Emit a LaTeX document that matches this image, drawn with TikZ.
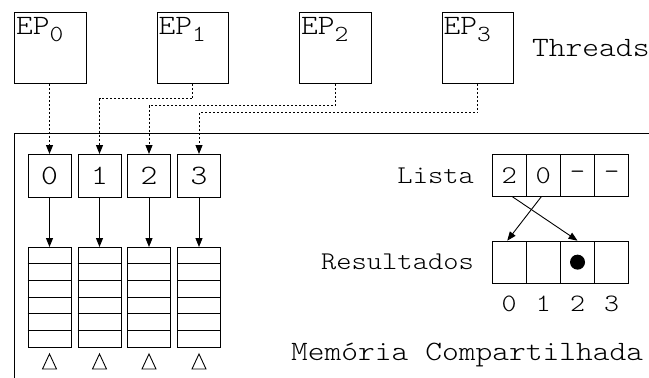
\documentclass[tikz,border=0pt]{standalone}
\usepackage{fontspec}
\setmainfont{lmmonolt10-regular.otf}[FakeStretch=1.14]
\usetikzlibrary{arrows.meta}
\begin{document}
\begin{tikzpicture}[x=1pt,y=-1pt,
  box/.style={draw,line width=0.9pt,inner sep=0pt},
  bigtxt/.style={font=\fontsize{28}{30}\selectfont,inner sep=0pt},
  midtxt/.style={font=\fontsize{25.5}{28}\selectfont,inner sep=0pt},
  smalltxt/.style={font=\fontsize{25}{27}\selectfont,inner sep=0pt},
  tip/.style={-{Triangle[length=9pt,width=7pt]}},
  feed/.style={tip,line width=0.9pt,dash pattern=on 2.2pt off 1.8pt},
  link/.style={tip,line width=0.9pt}]
\useasboundingbox (0,0) rectangle (649,378);

% processing elements (threads)
\foreach \i/\x in {0/14,1/156.5,2/299,3/441.5}{
  \node[box,minimum width=71.5pt,minimum height=71pt,anchor=north west] (ep\i) at (\x,12) {};
  \node[bigtxt,anchor=base west] (eplab\i) at (\x+2,34.7)
    {EP\raisebox{-6.6pt}{\fontsize{23}{23}\selectfont\i}};
}
\node[bigtxt,anchor=base west] (threads) at (532,56) {Threads};

% shared memory frame
\coordinate (frTR) at (649,133);
\coordinate (frTL) at (14,133);
\coordinate (frBL) at (14,378);
\draw[line width=0.9pt] (frTR) -- (frTL) -- (frBL);

% index cells, queues and markers
\foreach \i/\cx in {0/49.5,1/99.5,2/149,3/199}{
  \node[box,minimum width=43pt,minimum height=43pt,anchor=north,bigtxt] (idx\i) at (\cx,154) {\i};
  \node[box,minimum width=43pt,minimum height=100pt,anchor=north] (q\i) at (\cx,247) {};
  \foreach \k in {1,...,5}{
    \draw[line width=0.9pt] ([yshift=-\k*16.67pt]q\i.north west) -- ([yshift=-\k*16.67pt]q\i.north east);
  }
  \draw[link] (idx\i.south) -- (q\i.north);
  \draw[line width=0.9pt] (\cx-7,369) -- (\cx,354) -- (\cx+7,369) -- cycle;
}

% dotted links from threads to index cells
\draw[feed] (ep0.south -| idx0.north) -- (idx0.north);
\draw[feed] (ep1.south) -- ++(0,15) -| (idx1.north);
\draw[feed] (ep2.south) -- ++(0,22) -| (idx2.north);
\draw[feed] (ep3.south) -- ++(0,29) -| (idx3.north);

% list and results arrays
\foreach \i/\t in {0/2,1/0,2/–,3/–}{
  \node[box,minimum width=34.15pt,minimum height=41.4pt,anchor=north west,midtxt] (l\i) at (491.7+34.15*\i,154.3) {\t};
  \node[box,minimum width=34.15pt,minimum height=42pt,anchor=north west] (r\i) at (491.7+34.15*\i,240.7) {};
  \node[smalltxt,anchor=base] (n\i) at (r\i.south |- 0,311.7) {\i};
}
\node[midtxt,anchor=base east] (lista) at (474,183.3) {Lista};
\node[midtxt,anchor=base east] (res) at (474,269.3) {Resultados};
\fill (r2.center) circle (7.5pt);
\draw[link] ([xshift=3pt]l0.south) -- (r2.north);
\draw[link] ([xshift=-2pt]l1.south) -- ([xshift=-2pt]r0.north);

\node[bigtxt,anchor=base west] (mem) at (291,360) {Memória Compartilhada};
\end{tikzpicture}
\end{document}
